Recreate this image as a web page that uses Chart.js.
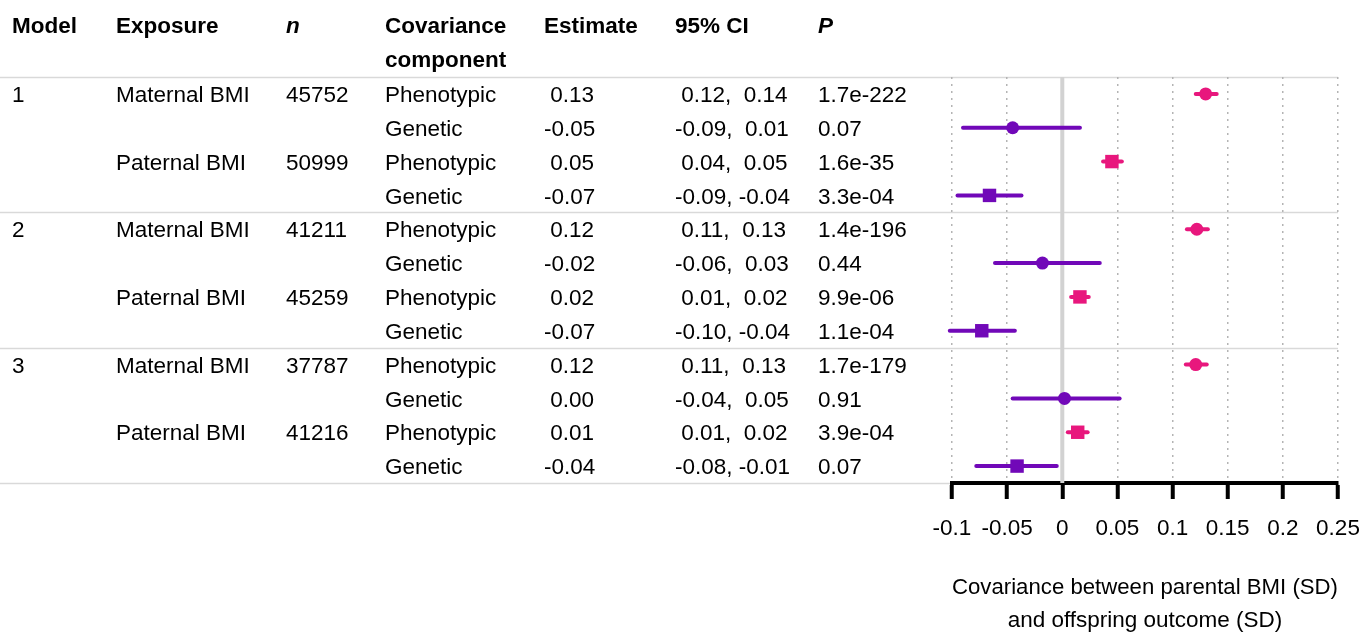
<!DOCTYPE html>
<html>
<head>
<meta charset="utf-8">
<script src="https://cdn.jsdelivr.net/npm/chart.js@4.4.1/dist/chart.umd.min.js"></script>
<style>
  html, body { margin: 0; padding: 0; background: #fff; }
  canvas { display: block; }
</style>
</head>
<body>
<canvas id="forest" width="1363" height="635"></canvas>
<script>
Chart.defaults.color = '#000';
Chart.defaults.font.family = '"Liberation Sans", Arial, sans-serif';

const pink = '#e8177d';
const purple = '#7108b8';
const gridColor = '#b4b4b4';
const ruleColor = '#d9d9d9';

// table columns, one entry per row
const modelCol = ['1', '', '', '', '2', '', '', '', '3', '', '', ''];
const exposureRows = ['Maternal BMI', 'Maternal BMI', 'Paternal BMI', 'Paternal BMI',
                      'Maternal BMI', 'Maternal BMI', 'Paternal BMI', 'Paternal BMI',
                      'Maternal BMI', 'Maternal BMI', 'Paternal BMI', 'Paternal BMI'];
const nCol = ['45752', '', '50999', '', '41211', '', '45259', '', '37787', '', '41216', ''];
const componentRows = ['Phenotypic', 'Genetic', 'Phenotypic', 'Genetic',
                       'Phenotypic', 'Genetic', 'Phenotypic', 'Genetic',
                       'Phenotypic', 'Genetic', 'Phenotypic', 'Genetic'];
const estimateCol = [' 0.13', '-0.05', ' 0.05', '-0.07', ' 0.12', '-0.02', ' 0.02', '-0.07', ' 0.12', ' 0.00', ' 0.01', '-0.04'];
const ciCol = [' 0.12,  0.14', '-0.09,  0.01', ' 0.04,  0.05', '-0.09, -0.04',
               ' 0.11,  0.13', '-0.06,  0.03', ' 0.01,  0.02', '-0.10, -0.04',
               ' 0.11,  0.13', '-0.04,  0.05', ' 0.01,  0.02', '-0.08, -0.01'];
const pCol = ['1.7e-222', '0.07', '1.6e-35', '3.3e-04', '1.4e-196', '0.44', '9.9e-06', '1.1e-04',
              '1.7e-179', '0.91', '3.9e-04', '0.07'];

// plotted values
const estimates = [0.130, -0.045, 0.045, -0.066, 0.122, -0.018, 0.016, -0.073, 0.121, 0.002, 0.014, -0.041];
const ciLow    = [0.121, -0.090, 0.037, -0.095, 0.113, -0.061, 0.008, -0.102, 0.112, -0.045, 0.005, -0.078];
const ciHigh   = [0.140,  0.016, 0.054, -0.037, 0.132,  0.034, 0.024, -0.043, 0.131,  0.052, 0.023, -0.005];

const headers = ['Model', 'Exposure', 'n', 'Covariance', 'Estimate', '95% CI', 'P'];
const headerSub = 'component';
const xTickValues = [-0.1, -0.05, 0, 0.05, 0.1, 0.15, 0.2, 0.25];
const xTickLabels = ['-0.1', '-0.05', '0', '0.05', '0.1', '0.15', '0.2', '0.25'];
const axisTitle = ['Covariance between parental BMI (SD)', 'and offspring outcome (SD)'];
const groupBreaks = [0.5, 4.5, 8.5, 12.5];

const rowY = estimates.map((v, i) => i + 1);

function seriesFor(exposure, component) {
  const pts = [];
  estimates.forEach((v, i) => {
    if (exposureRows[i] === exposure && componentRows[i] === component) pts.push({ x: v, y: rowY[i] });
  });
  return pts;
}

// exposure text only on first row of each block
const exposureCol = exposureRows.map((e, i) => (i > 0 && exposureRows[i - 1] === e) ? '' : e);

const textFont = '22.5px "Liberation Sans", Arial, sans-serif';
const boldFont = 'bold 22.5px "Liberation Sans", Arial, sans-serif';
const boldItalic = 'italic bold 22.5px "Liberation Sans", Arial, sans-serif';
const colX = [12, 116, 286, 385, 544, 675, 818];

const tablePlugin = {
  id: 'table',
  beforeDraw(chart) {
    const ctx = chart.ctx;
    const y = chart.scales.y;
    const right = chart.chartArea.right;
    ctx.save();
    ctx.strokeStyle = ruleColor;
    ctx.lineWidth = 1.5;
    groupBreaks.forEach(b => {
      const py = Math.round(y.getPixelForValue(b)) + 0.5;
      ctx.beginPath();
      ctx.moveTo(0, py);
      ctx.lineTo(right, py);
      ctx.stroke();
    });
    ctx.restore();
  },
  beforeDatasetsDraw(chart) {
    const ctx = chart.ctx;
    const x = chart.scales.x;
    const y = chart.scales.y;
    const area = chart.chartArea;
    ctx.save();
    // zero reference line
    ctx.strokeStyle = '#d2d2d2';
    ctx.lineWidth = 4;
    ctx.beginPath();
    ctx.moveTo(x.getPixelForValue(0), area.top);
    ctx.lineTo(x.getPixelForValue(0), area.bottom);
    ctx.stroke();
    // confidence intervals
    ctx.lineWidth = 4;
    ctx.lineCap = 'round';
    estimates.forEach((v, i) => {
      ctx.strokeStyle = componentRows[i] === 'Phenotypic' ? pink : purple;
      const py = y.getPixelForValue(rowY[i]);
      ctx.beginPath();
      ctx.moveTo(x.getPixelForValue(ciLow[i]), py);
      ctx.lineTo(x.getPixelForValue(ciHigh[i]), py);
      ctx.stroke();
    });
    ctx.restore();
  },
  afterDraw(chart) {
    const ctx = chart.ctx;
    const y = chart.scales.y;
    ctx.save();
    ctx.fillStyle = '#000';
    ctx.textBaseline = 'middle';
    ctx.textAlign = 'left';
    headers.forEach((h, c) => {
      ctx.font = (h === 'n' || h === 'P') ? boldItalic : boldFont;
      ctx.fillText(h, colX[c], 27);
    });
    ctx.font = boldFont;
    ctx.fillText(headerSub, colX[3], 61);
    ctx.font = textFont;
    const cols = [modelCol, exposureCol, nCol, componentRows, estimateCol, ciCol, pCol];
    rowY.forEach((r, i) => {
      const py = y.getPixelForValue(r) + 2;
      cols.forEach((col, c) => {
        if (col[i]) ctx.fillText(col[i], colX[c], py);
      });
    });
    ctx.restore();
  }
};

new Chart(document.getElementById('forest'), {
  type: 'scatter',
  data: {
    datasets: [
      { label: 'Maternal phenotypic', data: seriesFor('Maternal BMI', 'Phenotypic'),
        pointStyle: 'circle', pointRadius: 6.5, backgroundColor: pink, borderColor: pink, borderWidth: 0 },
      { label: 'Maternal genetic', data: seriesFor('Maternal BMI', 'Genetic'),
        pointStyle: 'circle', pointRadius: 6.5, backgroundColor: purple, borderColor: purple, borderWidth: 0 },
      { label: 'Paternal phenotypic', data: seriesFor('Paternal BMI', 'Phenotypic'),
        pointStyle: 'rect', pointRadius: 9.5, backgroundColor: pink, borderColor: pink, borderWidth: 0 },
      { label: 'Paternal genetic', data: seriesFor('Paternal BMI', 'Genetic'),
        pointStyle: 'rect', pointRadius: 9.5, backgroundColor: purple, borderColor: purple, borderWidth: 0 }
    ]
  },
  options: {
    responsive: false,
    animation: false,
    devicePixelRatio: 1,
    layout: { padding: { left: 952, top: 77, right: 25, bottom: -2 } },
    plugins: {
      legend: { display: false },
      tooltip: { enabled: false }
    },
    scales: {
      x: {
        type: 'linear',
        min: -0.1,
        max: 0.25,
        afterBuildTicks: scale => { scale.ticks = xTickValues.map(v => ({ value: v })); },
        afterFit: scale => {
          scale.height = 154;
          scale.paddingLeft = 0;
          scale.paddingRight = 0;
        },
        ticks: {
          callback: (v, i) => xTickLabels[i],
          font: { size: 22.5 },
          padding: 16,
          maxRotation: 0,
          autoSkip: false
        },
        grid: {
          color: gridColor,
          lineWidth: 1.5,
          tickColor: '#000',
          tickWidth: 4,
          tickLength: 16
        },
        border: { display: true, color: '#000', width: 4, dash: [2, 5] },
        title: {
          display: true,
          text: axisTitle,
          font: { size: 22.5, lineHeight: 1.45 },
          padding: { top: 0, bottom: 0 }
        }
      },
      y: {
        type: 'linear',
        display: false,
        reverse: true,
        min: 0.5,
        max: 12.5
      }
    }
  },
  plugins: [tablePlugin]
});
</script>
</body>
</html>
